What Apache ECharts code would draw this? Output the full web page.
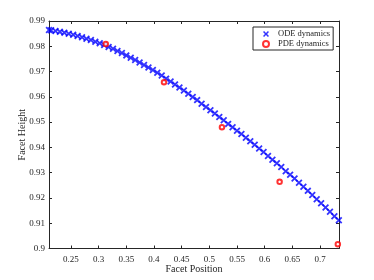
<!DOCTYPE html>
<html>
<head>
<meta charset="utf-8">
<script src="https://cdn.jsdelivr.net/npm/echarts@6/dist/echarts.min.js"></script>
<style>
html,body{margin:0;padding:0;background:#fff;}
#chart{width:374px;height:280px;}
</style>
</head>
<body>
<div id="chart"></div>
<script>
// ODE dynamics (facet position, facet height)
const odeX = [0.2103, 0.214, 0.222, 0.230, 0.238, 0.246, 0.254, 0.262, 0.270, 0.278, 0.286, 0.294, 0.302, 0.310, 0.318, 0.326, 0.334, 0.342, 0.350, 0.358, 0.366, 0.374, 0.382, 0.390, 0.398, 0.406, 0.414, 0.422, 0.430, 0.438, 0.446, 0.454, 0.462, 0.470, 0.478, 0.486, 0.494, 0.502, 0.510, 0.518, 0.526, 0.534, 0.542, 0.550, 0.558, 0.566, 0.574, 0.582, 0.590, 0.598, 0.606, 0.614, 0.622, 0.630, 0.638, 0.646, 0.654, 0.662, 0.670, 0.678, 0.686, 0.694, 0.702, 0.710, 0.718, 0.726, 0.734];
const odeY = [0.9864, 0.9863, 0.9860, 0.9857, 0.9854, 0.9850, 0.9846, 0.9841, 0.9836, 0.9830, 0.9825, 0.9818, 0.9812, 0.9805, 0.9797, 0.9790, 0.9781, 0.9773, 0.9764, 0.9755, 0.9746, 0.9736, 0.9726, 0.9716, 0.9706, 0.9695, 0.9684, 0.9672, 0.9661, 0.9649, 0.9637, 0.9625, 0.9612, 0.9599, 0.9587, 0.9573, 0.9560, 0.9547, 0.9534, 0.9520, 0.9507, 0.9493, 0.9480, 0.9466, 0.9453, 0.9438, 0.9424, 0.9410, 0.9396, 0.9382, 0.9366, 0.9351, 0.9337, 0.9322, 0.9306, 0.9292, 0.9277, 0.9260, 0.9244, 0.9228, 0.9212, 0.9195, 0.9179, 0.9162, 0.9145, 0.9128, 0.9112];
// PDE dynamics
const pdeX = [0.3129, 0.4181, 0.5228, 0.6270, 0.7322];
const pdeY = [0.9809, 0.9658, 0.9480, 0.9264, 0.9017];
const seriesNames = ['ODE dynamics', 'PDE dynamics'];
const xRange = [0.2103, 0.7343];
const yRange = [0.90, 0.99];

const odeData = odeX.map((x, i) => [x, odeY[i]]);
const pdeData = pdeX.map((x, i) => [x, pdeY[i]]);

const FONT = '"Liberation Serif", "DejaVu Serif", serif';
const AX = '#262626';
const xSym = 'path://M0,1.8L1.8,0L5,3.2L8.2,0L10,1.8L6.8,5L10,8.2L8.2,10L5,6.8L1.8,10L0,8.2L3.2,5Z';

const chart = echarts.init(document.getElementById('chart'), null, {renderer: 'canvas'});
const baseX = {
  type: 'value', min: xRange[0], max: xRange[1],
  splitNumber: 10, minInterval: 0.05, maxInterval: 0.05,
  axisLine: {show: true, onZero: false, lineStyle: {color: AX, width: 1}},
  axisTick: {show: true, inside: true, length: 3, lineStyle: {color: AX}},
  splitLine: {show: false}
};
const baseY = {
  type: 'value', min: yRange[0], max: yRange[1], interval: 0.01,
  axisLine: {show: true, onZero: false, lineStyle: {color: AX, width: 1}},
  axisTick: {show: true, inside: true, length: 3, lineStyle: {color: AX}},
  splitLine: {show: false}
};
chart.setOption({
  animation: false,
  backgroundColor: '#fff',
  grid: {left: 49, right: 35, top: 21, bottom: 31.5, containLabel: false, outerBoundsMode: 'none'},
  xAxis: [
    Object.assign({}, baseX, {
      position: 'bottom',
      name: 'Facet Position', nameLocation: 'middle', nameGap: 16, nameMoveOverlap: false,
      nameTextStyle: {fontFamily: FONT, fontSize: 10, color: AX},
      axisLabel: {show: true, fontFamily: FONT, fontSize: 9, color: AX, margin: 7, showMinLabel: false, showMaxLabel: false}
    }),
    Object.assign({}, baseX, {position: 'top', axisLabel: {show: false}})
  ],
  yAxis: [
    Object.assign({}, baseY, {
      position: 'left',
      name: 'Facet Height', nameLocation: 'middle', nameGap: 22, nameMoveOverlap: false,
      nameTextStyle: {fontFamily: FONT, fontSize: 10, color: AX},
      axisLabel: {show: true, fontFamily: FONT, fontSize: 9, color: AX, margin: 4}
    }),
    Object.assign({}, baseY, {position: 'right', axisLabel: {show: false}})
  ],
  legend: {
    orient: 'vertical', left: 253, top: 27,
    padding: [2, 3, 1, 9],
    itemWidth: 6, itemHeight: 6, itemGap: 0,
    backgroundColor: '#fff', borderColor: AX, borderWidth: 1,
    textStyle: {fontFamily: FONT, fontSize: 8.5, color: AX, lineHeight: 10, padding: [0, 0, 0, 4]},
    data: [
      {name: seriesNames[0], icon: xSym},
      {name: seriesNames[1], icon: 'emptyCircle'}
    ]
  },
  series: [
    {
      name: seriesNames[0], type: 'scatter', data: odeData,
      symbol: xSym, symbolSize: 7,
      itemStyle: {color: '#0000ff'}, clip: true, z: 2
    },
    {
      name: seriesNames[1], type: 'scatter', data: pdeData,
      symbol: 'emptyCircle', symbolSize: 4.5,
      itemStyle: {color: '#ff0000', borderColor: '#ff0000', borderWidth: 1.3}, clip: false, z: 3
    }
  ]
});
</script>
</body>
</html>
